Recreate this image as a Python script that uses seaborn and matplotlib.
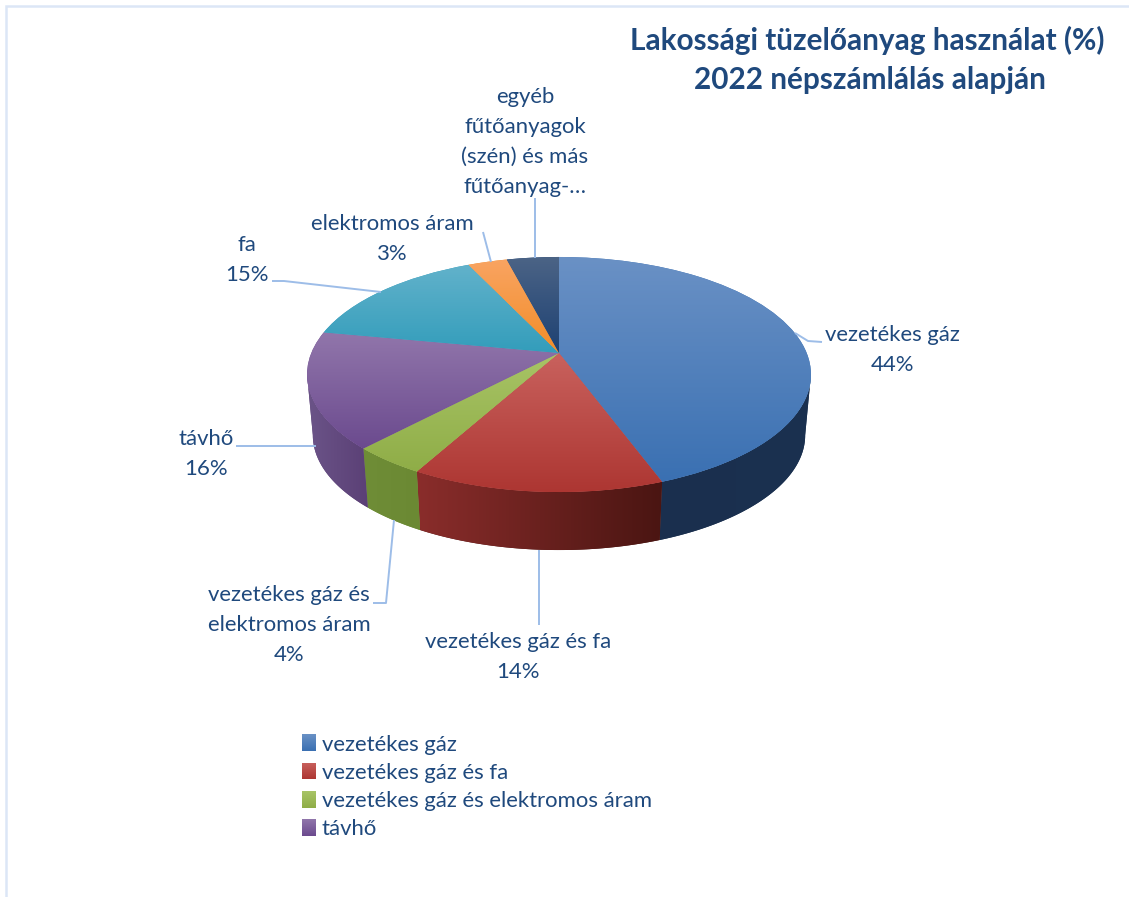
"""Lakossagi tuzeloanyag 3D pie, drawn with a perspective transform on ax.pie wedges."""

import matplotlib

matplotlib.use("Agg")

import matplotlib.pyplot as plt
import matplotlib.transforms as mtransforms
import numpy as np
import seaborn as sns
from matplotlib.colors import LinearSegmentedColormap
from matplotlib.patches import Patch, Polygon

categories = [
    "vezetékes gáz",
    "vezetékes gáz és fa",
    "vezetékes gáz és elektromos áram",
    "távhő",
    "fa",
    "elektromos áram",
    "egyéb fűtőanyagok (szén) és más fűtőanyag-…",
]
values = [44.4, 13.6, 4, 16, 15, 3, 4]
label_names = [
    "vezetékes gáz",
    "vezetékes gáz és fa",
    "vezetékes gáz és\nelektromos áram",
    "távhő",
    "fa",
    "elektromos áram",
    "egyéb\nfűtőanyagok\n(szén) és más\nfűtőanyag-…",
]
show_percent = [True, True, True, True, True, True, False]
legend_count = 4

top_light = ["#6a91c5", "#c9625e", "#a8c466", "#9176ab", "#62b2cb", "#f9a462", "#4c6486"]
top_dark = ["#3a70b2", "#ad3632", "#8fad47", "#6b4a8e", "#339dbb", "#f28d28", "#1d4173"]
rim_left = ["#1a2f4e", "#8a2d2b", "#6f8d37", "#6b5488", "#2a7f96", "#c06f20", "#1a3557"]
rim_right = ["#1b3150", "#4a1512", "#6b8933", "#5b4076", "#2a7f96", "#c06f20", "#1a3557"]

title_top = "Lakossági tüzelőanyag használat (%)"
title_bottom = "2022 népszámlálás alapján"
TEXT_COLOR = "#1F497D"
LEADER_COLOR = "#9dbde8"
BORDER_COLOR = "#dce6f6"

# label anchor (centre of text block) per slice, in image pixels
label_pos = [(892, 350), (518, 657), (289, 625), (206, 454), (247, 260), (392, 239), (525, 142)]
leaders = [
    [(795, 333), (808, 341), (822, 342)],
    [(539, 550), (539, 625)],
    [(394, 520), (386, 603), (373, 603)],
    [(316, 446), (236, 446)],
    [(381, 292), (284, 281), (272, 281)],
    [(491, 262), (483, 232)],
    [(535, 258), (535, 198)],
]

APEX_X, APEX_Y = 559, 353
PERSP_K = 0.183
PERSP_A = 247.7
PERSP_B = 113.6
RIM_SCALE = 0.977
RIM_DROP = 61.2

sns.set_theme(style="white")
plt.rcParams["font.family"] = ["Lato", "DejaVu Sans"]


class PiePerspective(mtransforms.Transform):
    """Maps the unit circle of ax.pie onto the tilted disc, in image pixels."""

    input_dims = 2
    output_dims = 2

    def transform_non_affine(self, values):
        xy = np.asarray(values, dtype=float)
        w = 1 + PERSP_K * xy[:, 1]
        return np.column_stack((APEX_X + PERSP_A * xy[:, 0] / w, APEX_Y - PERSP_B * xy[:, 1] / w))


def _gradient(ax, colors, extent, clip, zorder, horizontal=False):
    cmap = LinearSegmentedColormap.from_list("shade", colors)
    ramp = np.linspace(0, 1, 256)
    ramp = ramp[None, :] if horizontal else ramp[:, None]
    image = ax.imshow(ramp, cmap=cmap, extent=extent, origin="upper", aspect="auto", interpolation="bilinear", zorder=zorder)
    image.set_clip_path(clip)
    return image


fig = plt.figure(figsize=(11.29, 8.97), dpi=100, facecolor="white")
ax = fig.add_axes([0, 0, 1, 1])
wedges, _ = ax.pie(values, startangle=90, counterclock=False, colors=top_dark)
ax.set_aspect("auto")
ax.set_xlim(0, 1129)
ax.set_ylim(897, 0)
ax.axis("off")

persp = PiePerspective()
# the front of the disc runs between its two silhouette points
front_end = np.degrees(np.arcsin(-PERSP_K))
front_start = -180 - front_end
for i, wedge in enumerate(wedges):
    wedge.set_transform(persp + ax.transData)
    wedge.set_zorder(1.5)
    wedge.set_edgecolor("none")

    low = max(wedge.theta1, front_start)
    high = min(wedge.theta2, front_end)
    if low >= high:
        continue
    thetas = np.radians(np.linspace(low, high, 80))
    top = persp.transform(np.column_stack((np.cos(thetas), np.sin(thetas))))
    bottom = np.column_stack(
        (
            APEX_X + RIM_SCALE * (top[:, 0] - APEX_X),
            APEX_Y + RIM_DROP + RIM_SCALE * (top[:, 1] - APEX_Y),
        )
    )
    rim = Polygon(np.vstack((top, bottom[::-1])), closed=True, facecolor=rim_right[i], edgecolor="none", zorder=1)
    ax.add_patch(rim)
    outline = np.vstack((top, bottom))
    _gradient(
        ax,
        [rim_left[i], rim_right[i]],
        (outline[:, 0].min(), outline[:, 0].max(), outline[:, 1].max(), outline[:, 1].min()),
        rim,
        1.1,
        horizontal=True,
    )

fig.canvas.draw()
for i, wedge in enumerate(wedges):
    box = wedge.get_window_extent().transformed(ax.transData.inverted())
    _gradient(ax, [top_light[i], top_dark[i]], (box.x0, box.x1, box.ymax, box.ymin), wedge, 2)

for path in leaders:
    xs, ys = zip(*path)
    ax.plot(xs, ys, color=LEADER_COLOR, linewidth=1.4, zorder=3, solid_capstyle="butt")

for name, value, show, (x, y) in zip(label_names, values, show_percent, label_pos):
    text = f"{name}\n{value:.0f}%" if show else name
    ax.text(x, y, text, ha="center", va="center", fontsize=15.9, color=TEXT_COLOR, linespacing=1.63, zorder=4)

ax.text(867, 40, title_top, ha="center", va="center", fontsize=21.4, fontweight="bold", color=TEXT_COLOR, zorder=4)
ax.text(870, 80, title_bottom, ha="center", va="center", fontsize=21.4, fontweight="bold", color=TEXT_COLOR, zorder=4)

ax.plot([5.5, 5.5, 1129], [897, 6, 6], color=BORDER_COLOR, linewidth=1.8, zorder=0.5, solid_joinstyle="miter")

handles = [Patch(facecolor=top_dark[i], edgecolor="none", label=categories[i]) for i in range(legend_count)]
legend = ax.legend(
    handles=handles,
    loc="upper left",
    bbox_to_anchor=(302, 734.5),
    bbox_transform=ax.transData,
    frameon=False,
    fontsize=15.9,
    labelcolor=TEXT_COLOR,
    borderpad=0,
    borderaxespad=0,
    handlelength=0.63,
    handleheight=0.8,
    handletextpad=0.27,
    labelspacing=0.36,
)
legend.set_zorder(5)

fig.canvas.draw()
for i, handle in enumerate(legend.legend_handles):
    box = handle.get_window_extent().transformed(ax.transData.inverted())
    swatch = _gradient(ax, [top_light[i], top_dark[i]], (box.x0, box.x1, box.ymax, box.ymin), handle, 6)
    swatch.set_clip_path(None)
ax.set_xlim(0, 1129)
ax.set_ylim(897, 0)

fig.savefig("out.png", dpi=100)
plt.close(fig)
